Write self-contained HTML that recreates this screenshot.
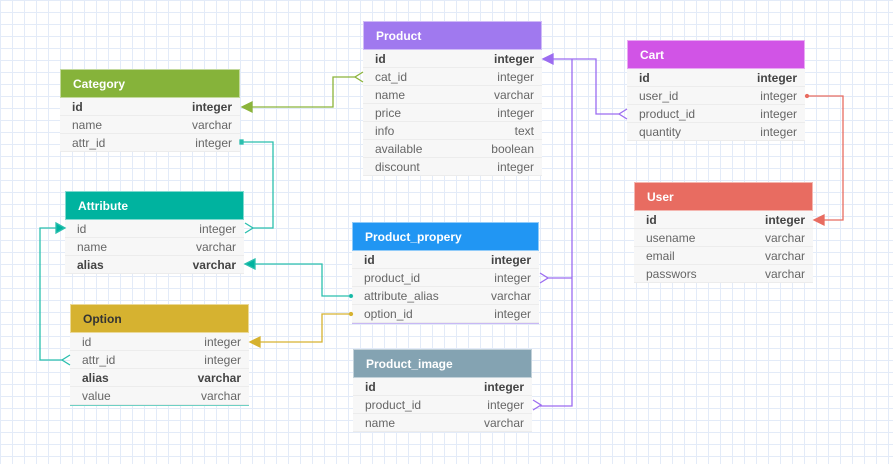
<!DOCTYPE html>
<html><head><style>
body{margin:0;width:893px;height:464px;overflow:hidden;position:relative;background-color:#fff;
background-image:linear-gradient(#e3ebf8 1px,transparent 1px),linear-gradient(90deg,#e3ebf8 1px,transparent 1px);background-size:12px 12px;font-family:"Liberation Sans",sans-serif;}
.t{position:absolute;background:#f7f7f7;}
.h{height:29px;line-height:29px;color:#fff;font-weight:bold;font-size:12px;padding-left:12px;border:1px solid rgba(255,255,255,.5);box-sizing:border-box}
.r{height:18px;line-height:18px;font-size:12px;color:#666;padding:0 8px 0 12px;display:flex;justify-content:space-between;border-bottom:1px solid #ececec;box-sizing:border-box}
.b{font-weight:bold;color:#444}
svg{position:absolute;left:0;top:0}
</style></head><body>
<div class="t" style="left:60px;top:69px;width:180px"><div class="h" style="background:#86b33a">Category</div>
<div class="r b"><span>id</span><span>integer</span></div><div class="r"><span>name</span><span>varchar</span></div><div class="r"><span>attr_id</span><span>integer</span></div></div>
<div class="t" style="left:363px;top:21px;width:179px"><div class="h" style="background:#a079ef">Product</div>
<div class="r b"><span>id</span><span>integer</span></div><div class="r"><span>cat_id</span><span>integer</span></div><div class="r"><span>name</span><span>varchar</span></div><div class="r"><span>price</span><span>integer</span></div><div class="r"><span>info</span><span>text</span></div><div class="r"><span>available</span><span>boolean</span></div><div class="r"><span>discount</span><span>integer</span></div></div>
<div class="t" style="left:627px;top:40px;width:178px"><div class="h" style="background:#d154e6">Cart</div>
<div class="r b"><span>id</span><span>integer</span></div><div class="r"><span>user_id</span><span>integer</span></div><div class="r"><span>product_id</span><span>integer</span></div><div class="r"><span>quantity</span><span>integer</span></div></div>
<div class="t" style="left:634px;top:182px;width:179px"><div class="h" style="background:#e86c61">User</div>
<div class="r b"><span>id</span><span>integer</span></div><div class="r"><span>usename</span><span>varchar</span></div><div class="r"><span>email</span><span>varchar</span></div><div class="r"><span>passwors</span><span>varchar</span></div></div>
<div class="t" style="left:65px;top:191px;width:179px"><div class="h" style="background:#00b39f">Attribute</div>
<div class="r"><span>id</span><span>integer</span></div><div class="r"><span>name</span><span>varchar</span></div><div class="r b"><span>alias</span><span>varchar</span></div></div>
<div class="t" style="left:352px;top:222px;width:187px;border-bottom:1px solid #c9b8f5"><div class="h" style="background:#2196f3">Product_propery</div>
<div class="r b"><span>id</span><span>integer</span></div><div class="r"><span>product_id</span><span>integer</span></div><div class="r"><span>attribute_alias</span><span>varchar</span></div><div class="r"><span>option_id</span><span>integer</span></div></div>
<div class="t" style="left:70px;top:304px;width:179px;border-bottom:1px solid #6dd0c4"><div class="h" style="background:#d6b230;color:#333">Option</div>
<div class="r"><span>id</span><span>integer</span></div><div class="r"><span>attr_id</span><span>integer</span></div><div class="r b"><span>alias</span><span>varchar</span></div><div class="r"><span>value</span><span>varchar</span></div></div>
<div class="t" style="left:353px;top:349px;width:179px"><div class="h" style="background:#84a3b2">Product_image</div>
<div class="r b"><span>id</span><span>integer</span></div><div class="r"><span>product_id</span><span>integer</span></div><div class="r"><span>name</span><span>varchar</span></div></div>
<svg width="893" height="464" fill="none" stroke-width="1.3">
<g stroke="#8bb43a"><path d="M355,77H333V107H250"/><path d="M363,72L355,77L363,82"/><path fill="#8bb43a" d="M242,107L252,102V112Z"/></g>
<g stroke="#9c6cf0"><path d="M552,59H596V114H619"/><path d="M572,59V406H540"/><path d="M572,278H547"/>
<path fill="#9c6cf0" d="M543,59L553,54V64Z"/><path d="M627,109L619,114L627,119"/><path d="M540,273L548,278L540,283"/><path d="M533,400L541,405L533,410"/></g>
<g stroke="#e86c61"><path d="M806,96H843V220H822"/><circle cx="807" cy="96" r="1.5" fill="#e86c61"/><path fill="#e86c61" d="M814,220L824,215V225Z"/></g>
<g stroke="#2bbfae"><path d="M241,142H273V228H252"/><rect x="240" y="140" width="3" height="4" fill="#2bbfae"/><path d="M245,223L253,228L245,233"/>
<path d="M57,228H40V360H62"/><path fill="#00b39f" d="M65,228L56,223V233Z"/><path d="M70,355L62,360L70,365"/>
<path d="M254,264H322V296H350"/><path fill="#00b39f" d="M245,264L255,259V269Z"/><circle cx="351" cy="296" r="1.5" fill="#00b39f"/></g>
<g stroke="#d6b230"><path d="M258,342H322V314H350"/><path fill="#d6b230" d="M250,342L260,337V347Z"/><circle cx="351" cy="314" r="1.5" fill="#d6b230"/></g>
</svg>
</body></html>
